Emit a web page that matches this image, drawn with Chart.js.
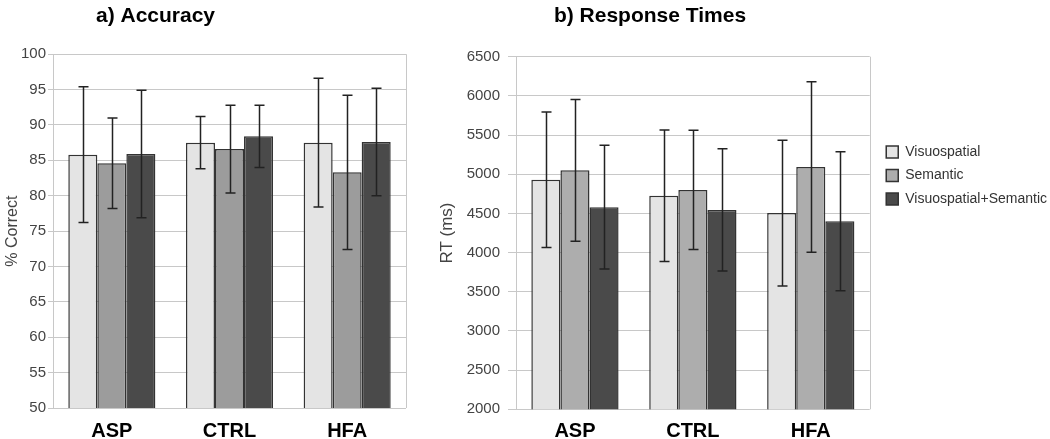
<!DOCTYPE html>
<html>
<head>
<meta charset="utf-8">
<title>Accuracy and Response Times</title>
<script src="https://cdn.jsdelivr.net/npm/chart.js@4"></script>
<style>
  html, body { margin: 0; padding: 0; background: #fff; }
  body { width: 1050px; height: 439px; overflow: hidden; position: relative; }
  /* canvases are wider than the plots so the titles land where they do in the figure */
  #accChart { position: absolute; left: -95px; top: 0; }
  #rtChart { position: absolute; left: 250px; top: 0; }
</style>
</head>
<body>
<canvas id="accChart" width="512" height="470"></canvas>
<canvas id="rtChart" width="800" height="470"></canvas>
<script>
// Data
const groups = ['ASP', 'CTRL', 'HFA'];
const seriesNames = ['Visuospatial', 'Semantic', 'Visuospatial+Semantic'];

// a) Accuracy (% correct), mean and error
const accVisuo = [85.8, 87.5, 87.5];
const accVisuoErr = [9.6, 3.7, 9.1];
const accSem = [84.6, 86.6, 83.3];
const accSemErr = [6.4, 6.2, 10.9];
const accBoth = [85.9, 88.4, 87.6];
const accBothErr = [9.0, 4.4, 7.6];
const accTicks = [50, 55, 60, 65, 70, 75, 80, 85, 90, 95, 100];

// b) Response times (ms), mean and error
const rtVisuo = [4930, 4725, 4505];
const rtVisuoErr = [865, 840, 930];
const rtSem = [5050, 4800, 5093];
const rtSemErr = [905, 760, 1088];
const rtBoth = [4580, 4545, 4400];
const rtBothErr = [790, 780, 887];
const rtTicks = [2000, 2500, 3000, 3500, 4000, 4500, 5000, 5500, 6000, 6500];

const accFills = ['#e4e4e4', '#9c9c9c', '#4a4a4a'];
const rtFills = ['#e4e4e4', '#adadad', '#4a4a4a'];
const gridColor = '#c8c8c8';

Chart.defaults.font.family = '"Liberation Sans", Arial, sans-serif';
Chart.defaults.color = '#444';

// Right-hand frame line of the plot area
const rightBorder = {
    id: 'rightBorder',
    beforeDatasetsDraw(chart) {
        const { ctx, chartArea } = chart;
        const x = Math.round(chartArea.right) + 0.5;
        ctx.save();
        ctx.strokeStyle = gridColor;
        ctx.lineWidth = 1;
        ctx.beginPath();
        ctx.moveTo(x, chartArea.top);
        ctx.lineTo(x, chartArea.bottom);
        ctx.stroke();
        ctx.restore();
    }
};

// Draws the error bars on top of the bars
const errorBars = {
    id: 'errorBars',
    afterDatasetsDraw(chart) {
        const ctx = chart.ctx;
        const yScale = chart.scales.y;
        ctx.save();
        ctx.strokeStyle = '#222';
        ctx.lineWidth = 1.5;
        chart.data.datasets.forEach((ds, i) => {
            const meta = chart.getDatasetMeta(i);
            meta.data.forEach((bar, j) => {
                const top = yScale.getPixelForValue(ds.data[j] + ds.errors[j]);
                const bottom = yScale.getPixelForValue(ds.data[j] - ds.errors[j]);
                const x = Math.round(bar.x) + 0.5;
                ctx.beginPath();
                ctx.moveTo(x, top);
                ctx.lineTo(x, bottom);
                ctx.moveTo(x - 5, top);
                ctx.lineTo(x + 5, top);
                ctx.moveTo(x - 5, bottom);
                ctx.lineTo(x + 5, bottom);
                ctx.stroke();
            });
        });
        ctx.restore();
    }
};

// Leaves a small gap between the plot frame and the legend
const legendGap = {
    id: 'legendGap',
    afterLayout(chart) {
        if (chart.legend && chart.options.plugins.legend.display) {
            chart.legend.left += 7;
            chart.legend.right += 7;
        }
    }
};

function makeDatasets(values, errors, fills) {
    return values.map((v, i) => ({
        label: seriesNames[i],
        data: v,
        errors: errors[i],
        backgroundColor: fills[i],
        borderColor: '#333',
        borderWidth: 1.5,
        borderSkipped: false,
        categoryPercentage: 0.74,
        barPercentage: 1.0
    }));
}

function makeOptions(cfg) {
    return {
        responsive: false,
        animation: false,
        layout: { padding: { left: 0, right: cfg.padRight, top: 0, bottom: 0 } },
        plugins: {
            title: {
                display: true,
                text: cfg.title,
                color: '#000',
                font: { size: 21, weight: 'bold' },
                padding: { top: 4, bottom: cfg.titleGap }
            },
            legend: cfg.legend,
            tooltip: { enabled: false }
        },
        scales: {
            x: {
                grid: { display: false, drawTicks: false },
                border: { display: false },
                ticks: { color: '#000', font: { size: 20, weight: 'bold' }, padding: cfg.xPad },
                afterFit: s => { s.height = cfg.xHeight; }
            },
            y: {
                min: cfg.ticks[0],
                max: cfg.ticks[cfg.ticks.length - 1],
                afterBuildTicks: s => { s.ticks = cfg.ticks.map(v => ({ value: v })); },
                grid: { color: gridColor, tickColor: gridColor, tickLength: cfg.tickLen },
                border: { color: gridColor },
                ticks: {
                    color: '#444',
                    font: cfg.tickFont,
                    padding: cfg.tickPad,
                    callback: v => String(v)
                },
                title: {
                    display: true,
                    text: cfg.yTitle,
                    color: '#444',
                    font: { size: cfg.yTitleSize },
                    padding: { top: cfg.yTitlePad, bottom: 0 }
                },
                afterFit: s => { s.width = cfg.yWidth; }
            }
        }
    };
}

// a) Accuracy
new Chart(document.getElementById('accChart'), {
    type: 'bar',
    data: {
        labels: groups,
        datasets: makeDatasets([accVisuo, accSem, accBoth], [accVisuoErr, accSemErr, accBothErr], accFills)
    },
    options: makeOptions({
        title: 'a) Accuracy',
        titleGap: 25,
        padRight: 11,
        xPad: 11,
        xHeight: 62,
        ticks: accTicks,
        tickLen: 5,
        tickPad: 2,
        tickFont: { size: 15, family: '"Liberation Sans Narrow", "Liberation Sans", Arial, sans-serif' },
        yTitle: '% Correct',
        yTitleSize: 16,
        yTitlePad: 98,
        yWidth: 148,
        legend: { display: false }
    }),
    plugins: [rightBorder, errorBars]
});

// b) Response times
new Chart(document.getElementById('rtChart'), {
    type: 'bar',
    data: {
        labels: groups,
        datasets: makeDatasets([rtVisuo, rtSem, rtBoth], [rtVisuoErr, rtSemErr, rtBothErr], rtFills)
    },
    options: makeOptions({
        title: 'b) Response Times',
        titleGap: 27.5,
        padRight: 0,
        xPad: 10,
        xHeight: 60.7,
        ticks: rtTicks,
        tickLen: 8,
        tickPad: 8,
        tickFont: { size: 15 },
        yTitle: 'RT (ms)',
        yTitleSize: 17,
        yTitlePad: 187,
        yWidth: 266,
        legend: {
            display: true,
            position: 'right',
            align: 'start',
            title: { display: true, text: '', padding: { top: 121, bottom: 0 } },
            labels: {
                color: '#333',
                font: { size: 14 },
                boxWidth: 12,
                boxHeight: 12,
                padding: 9.5
            }
        }
    }),
    plugins: [rightBorder, errorBars, legendGap]
});
</script>
</body>
</html>
